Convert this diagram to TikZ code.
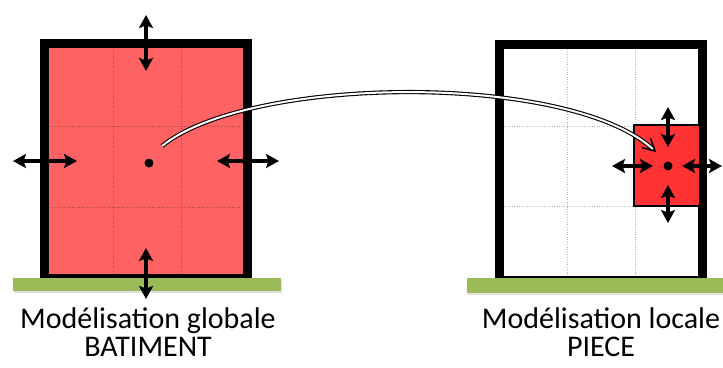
\documentclass[tikz,border=0pt]{standalone}
\usepackage{fontspec}
\setmainfont{Carlito}
\usetikzlibrary{arrows.meta,calc}
\definecolor{wallred}{HTML}{FF6262}
\definecolor{roomred}{HTML}{FF3333}
\definecolor{groundgreen}{HTML}{9BBB59}
\definecolor{redgrid}{HTML}{B04848}
\tikzset{
  force/.style={line width=3.2pt,
    {Stealth[length=13pt,width=14pt,inset=2.5pt]}-{Stealth[length=13pt,width=14pt,inset=2.5pt]}},
  gridline/.style={line width=1pt, dash pattern=on 1pt off 1.5pt},
  wall/.style={line width=9pt, line join=miter},
  groundbar/.style={fill=groundgreen},
  shadowbar/.style={fill=black!12},
  lbl/.style={font=\fontsize{30}{32}\selectfont, anchor=base, inner sep=0pt},
  link/.style={double=white, double distance=2pt, line width=1.1pt},
  linktip/.style={line width=1.6pt, line join=miter, line cap=round},
  centre/.style={circle, fill=black, inner sep=0pt, minimum size=9pt},
}
\begin{document}
\begin{tikzpicture}[x=1pt,y=-1pt]
\useasboundingbox (0,0) rectangle (723,367);

% ---------- left building (global model) ----------
\fill[wallred] (49,48) rectangle (244,276);
\foreach \x in {113.5,181.5} \draw[gridline, redgrid] (\x,48) -- (\x,274);
\foreach \y in {126.5,207.5} \draw[gridline, redgrid] (49,\y) -- (244,\y);
\draw[wall] (44.5,278) -- (44.5,43.5) -- (247.5,43.5) -- (247.5,278) -- cycle;
\fill[shadowbar] (14,280) rectangle (282,293);
\fill[groundbar] (13,278) rectangle (281,291);

\node[centre] (gdot) at (149,163) {};
\coordinate (gt1) at (146,15);  \coordinate (gt2) at (146,71);
\coordinate (gb1) at (146,248); \coordinate (gb2) at (146,299);
\coordinate (gl1) at (13,161);  \coordinate (gl2) at (77,161);
\coordinate (gr1) at (217,161); \coordinate (gr2) at (279,161);
\draw[force] (gt1) -- (gt2);
\draw[force] (gb1) -- (gb2);
\draw[force] (gl1) -- (gl2);
\draw[force] (gr1) -- (gr2);

% ---------- right building (local model) ----------
\fill[white] (504,49) rectangle (698,276);
\foreach \x in {567.5,635.5} \draw[gridline, black!30] (\x,49) -- (\x,276);
\foreach \y in {126.5,206.5} \draw[gridline, black!30] (504,\y) -- (698,\y);
\draw[wall] (499.5,280) -- (499.5,44.5) -- (702.5,44.5) -- (702.5,280) -- cycle;
\fill[shadowbar] (468,280) rectangle (725,295);
\fill[groundbar] (467,278) rectangle (725,293);

\draw[fill=roomred, line width=2.5pt] (634,125) rectangle (700,206);
\node[centre] (ldot) at (668,166) {};
\coordinate (lt1) at (668,107); \coordinate (lt2) at (668,147);
\coordinate (lb1) at (668,185); \coordinate (lb2) at (668,223);
\coordinate (ll1) at (612,166); \coordinate (ll2) at (653,166);
\coordinate (lr1) at (682,166); \coordinate (lr2) at (722,166);
\draw[force] (lt1) -- (lt2);
\draw[force] (lb1) -- (lb2);
\draw[force] (ll1) -- (ll2);
\draw[force] (lr1) -- (lr2);

% ---------- link ----------
\coordinate (ls) at (162,146);
\coordinate (le) at (655,151);
\coordinate (lc1) at (250,75);
\coordinate (lc2) at (570,72);
\draw[link] (ls) .. controls (lc1) and (lc2) .. ($(le)!2pt!(lc2)$);
\draw[linktip] ($(le)!13pt!28:(lc2)$) -- (le) -- ($(le)!13pt!-28:(lc2)$);

% ---------- labels ----------
\node[lbl] (g1) at (148,328) {Modélisation globale};
\node[lbl] (g2) at (148,356) {BATIMENT};
\node[lbl] (l1) at (601,328) {Modélisation locale};
\node[lbl] (l2) at (601,356) {PIECE};
\end{tikzpicture}
\end{document}
